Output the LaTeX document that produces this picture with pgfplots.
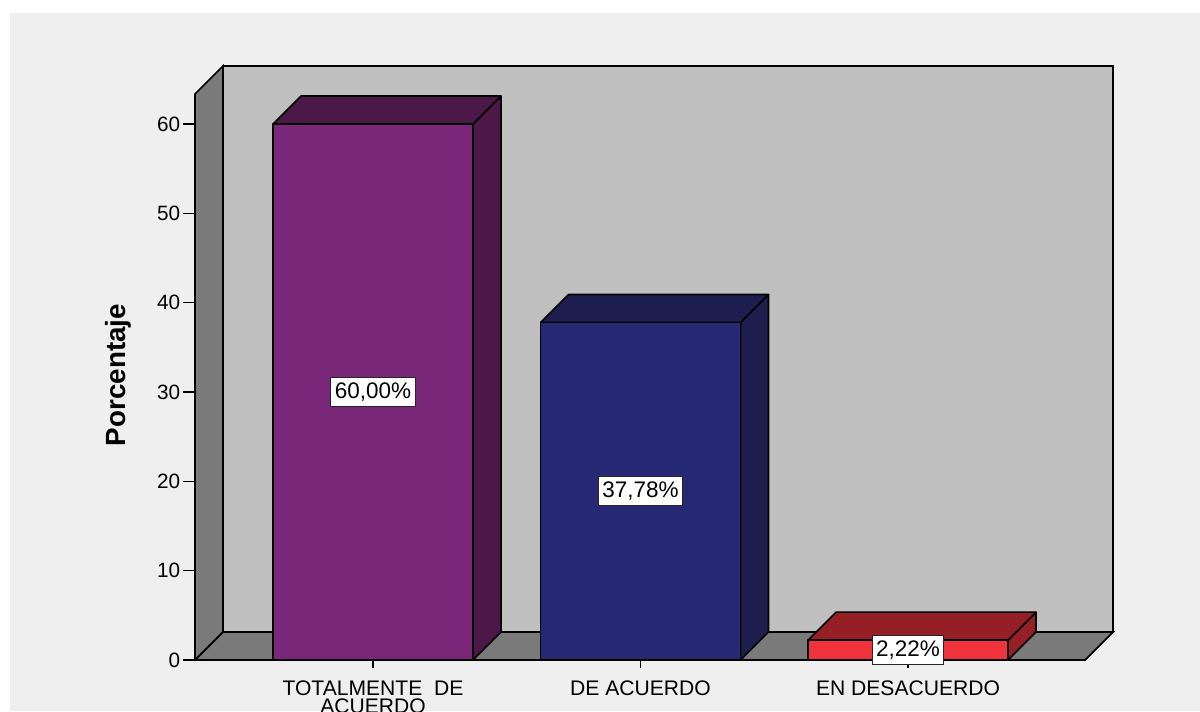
\documentclass[border=0pt]{standalone}
\usepackage{pgfplots}
\pgfplotsset{compat=1.18}
\usepackage{pgfplotstable}
\usepackage{fontspec}
\setmainfont{Liberation Sans}
\definecolor{bgcol}{HTML}{EFEFEF}
\definecolor{wallback}{HTML}{C0C0C0}
\definecolor{wallside}{HTML}{7A7A7A}
\definecolor{front0}{HTML}{7B2779}
\definecolor{side0}{HTML}{4C1848}
\definecolor{front1}{HTML}{272873}
\definecolor{side1}{HTML}{1D1D4E}
\definecolor{front2}{HTML}{F0333A}
\definecolor{side2}{HTML}{961F26}
\tikzset{lbl/.style={draw=black!85, fill=white, line width=0.6pt, font=\fontsize{12.8}{14}\selectfont, inner xsep=0.08cm, inner ysep=0.1cm}}

\pgfplotstableread{
x y
0 60.00
1 37.78
2 2.22
}\datatable

\def\hw{0.3738}
\def\dx{0.10467}
\def\dy{3.1343}

\begin{document}
\begin{tikzpicture}
\useasboundingbox (0,0) rectangle (24cm,14.22cm);
\fill[white] (0,0) rectangle (24cm,14.22cm);
\fill[bgcol] (0.2cm,0) rectangle (24cm,13.96cm);
\clip (0,0) rectangle (24cm,14.22cm);
\begin{axis}[
  at={(3.9cm,1.02cm)}, anchor=south west,
  width=17.8cm, height=11.32cm, scale only axis,
  xmin=-0.6654, xmax=2.6617, ymin=0, ymax=63.36,
  clip=false, no markers,
  axis lines*=left,
  axis line style={black, line width=1pt},
  tick align=outside,
  tick style={black, line width=0.8pt},
  ytick={0,10,20,30,40,50,60},
  ytick style={/pgfplots/major tick length=0.24cm},
  xtick={0,1,2},
  xtick style={/pgfplots/major tick length=0.16cm},
  xticklabels={{TOTALMENTE\ \ DE\\ACUERDO},{DE ACUERDO},{EN DESACUERDO}},
  xticklabel style={align=center, font=\fontsize{12}{10.5}\selectfont, inner sep=2pt, yshift=-0.18cm},
  yticklabel style={font=\fontsize{11.8}{13}\selectfont, inner sep=4pt},
  /pgf/number format/assume math mode=true,
  ylabel={Porcentaje},
  ylabel style={at={(axis description cs:-0.0865,0.5035)}, anchor=center, font=\fontsize{15.8}{17}\selectfont\bfseries},
]
% walls
\addplot[fill=wallback, draw=black, line width=1pt] coordinates {(-0.5607,3.1343) (2.7664,3.1343) (2.7664,66.494) (-0.5607,66.494) (-0.5607,3.1343)};
\addplot[fill=wallside, draw=black, line width=1pt] coordinates {(-0.6654,0) (-0.6654,63.36) (-0.5607,66.494) (-0.5607,3.1343) (-0.6654,0)};
\addplot[fill=wallside, draw=black, line width=1pt] coordinates {(-0.6654,0) (2.6617,0) (2.7664,3.1343) (-0.5607,3.1343) (-0.6654,0)};
% bars
\pgfplotsinvokeforeach{0,1,2}{
  \pgfplotstablegetelem{#1}{y}\of\datatable
  \pgfmathsetmacro{\yv}{\pgfplotsretval}
  \pgfmathsetmacro{\xl}{#1-\hw}
  \pgfmathsetmacro{\xr}{#1+\hw}
  \pgfmathsetmacro{\xrd}{#1+\hw+\dx}
  \pgfmathsetmacro{\xld}{#1-\hw+\dx}
  \pgfmathsetmacro{\yd}{\yv+\dy}
  \pgfmathsetmacro{\yh}{\yv/2}
  \edef\temp{
    \noexpand\addplot[fill=side#1, draw=black, line width=0.9pt, line join=round] coordinates {(\xr,0) (\xrd,\dy) (\xrd,\yd) (\xr,\yv) (\xr,0)};
    \noexpand\addplot[fill=side#1, draw=black, line width=0.9pt, line join=round] coordinates {(\xl,\yv) (\xr,\yv) (\xrd,\yd) (\xld,\yd) (\xl,\yv)};
    \noexpand\addplot[fill=front#1, draw=black, line width=0.9pt, line join=round] coordinates {(\xl,0) (\xr,0) (\xr,\yv) (\xl,\yv) (\xl,0)};
    \noexpand\node[lbl] at (axis cs:#1,\yh) {\noexpand\pgfmathprintnumber[fixed, fixed zerofill, precision=2, use comma, assume math mode=true]{\yv}\noexpand\%};
  }
  \temp
}
\end{axis}
\end{tikzpicture}
\end{document}
